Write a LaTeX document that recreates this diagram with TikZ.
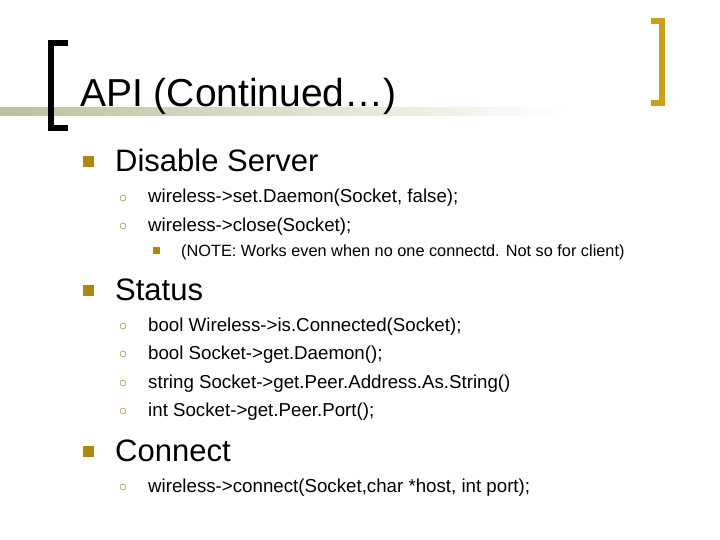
\documentclass[tikz,border=0pt]{standalone}
\usepackage{fontspec}
\setmainfont{Liberation Sans}
\definecolor{gold}{RGB}{204,160,20}
\definecolor{olive}{RGB}{190,190,160}
\tikzset{
  lvlone/.style={anchor=base west, inner sep=0pt, font=\fontsize{31}{32}\selectfont},
  lvltwo/.style={anchor=base west, inner sep=0pt, font=\fontsize{18.7}{20}\selectfont},
  lvlthree/.style={anchor=base west, inner sep=0pt, font=\fontsize{16.3}{17}\selectfont},
  sqbullet/.style={fill=gold!85!black, minimum size=11pt, inner sep=0pt},
  ringbullet/.style={circle, draw=gold!70!black, thin, minimum size=6pt, inner sep=0pt},
  smallsq/.style={fill=gold!85!black, minimum size=7pt, inner sep=0pt}
}
\begin{document}
\begin{tikzpicture}[x=1pt, y=-1pt]
\useasboundingbox (0,0) rectangle (720,540);
% header bar and brackets
\shade[left color=olive, right color=white] (0,108) rectangle (570,116);
\draw[line width=6pt] (68,43) -- (51,43) -- (51,128) -- (68,128);
\draw[gold, line width=6pt] (651,21) -- (662,21) -- (662,103) -- (651,103);
\node[anchor=base west, inner sep=0pt, font=\fontsize{39}{40}\selectfont] (title) at (80,107) {API (Continued\ldots)};
% Disable Server
\node[sqbullet] (b1) at (88,162) {};
\node[lvlone] (disable) at (115,172) {Disable Server};
\node[ringbullet] (b11) at (123,198) {};
\node[lvltwo] (setd) at (148,203) {wireless->set.Daemon(Socket, false);};
\node[ringbullet] (b12) at (123,226) {};
\node[lvltwo] (close) at (148,231) {wireless->close(Socket);};
\node[smallsq] (b121) at (156,250) {};
\node[lvlthree] (note) at (181,256) {(NOTE: Works even when no one connectd. Not so for client)};
% Status
\node[sqbullet] (b2) at (88,290) {};
\node[lvlone] (status) at (115,300) {Status};
\node[ringbullet] (b21) at (123,326) {};
\node[lvltwo] (isconn) at (148,331) {bool Wireless->is.Connected(Socket);};
\node[ringbullet] (b22) at (123,354) {};
\node[lvltwo] (getd) at (148,359) {bool Socket->get.Daemon();};
\node[ringbullet] (b23) at (123,383) {};
\node[lvltwo] (peeraddr) at (148,388) {string Socket->get.Peer.Address.As.String()};
\node[ringbullet] (b24) at (123,411) {};
\node[lvltwo] (peerport) at (148,416) {int Socket->get.Peer.Port();};
% Connect
\node[sqbullet] (b3) at (88,451) {};
\node[lvlone] (connect) at (115,461) {Connect};
\node[ringbullet] (b31) at (123,487) {};
\node[lvltwo] (conn) at (148,492) {wireless->connect(Socket,char *host, int port);};
\end{tikzpicture}
\end{document}
